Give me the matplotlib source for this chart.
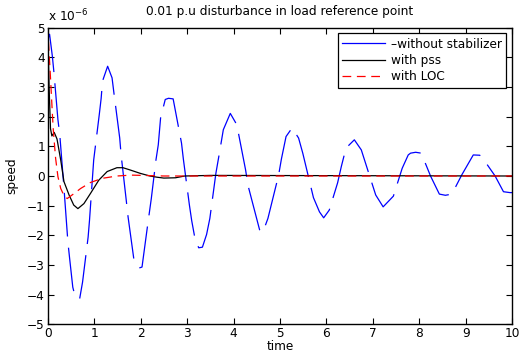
import matplotlib
matplotlib.use("Agg")
import matplotlib.pyplot as plt
from matplotlib.lines import Line2D

plt.rcParams['font.family'] = ['DejaVu Sans']

# Data (speed in units of 1e-6)
t_blue = [0.0, 0.04, 0.10, 0.135, 0.22, 0.26, 0.35, 0.435, 0.47, 0.54, 0.60, 0.69, 0.75, 0.87, 0.90,
          0.99, 1.11, 1.15, 1.18, 1.29, 1.385, 1.43, 1.55, 1.58, 1.69, 1.73, 1.86, 1.97, 2.03,
          2.16, 2.23, 2.33, 2.38, 2.43, 2.53, 2.60, 2.70, 2.88, 2.92, 3.05, 3.10, 3.17, 3.25,
          3.33, 3.42, 3.49, 3.62, 3.68, 3.78, 3.93, 4.07, 4.26, 4.31, 4.56, 4.63, 4.74, 4.97,
          5.03, 5.13, 5.26, 5.40, 5.49, 5.72, 5.85, 5.94, 6.06, 6.24, 6.32, 6.42, 6.60, 6.75,
          6.86, 7.06, 7.22, 7.44, 7.63, 7.76, 7.81, 7.92, 8.04, 8.24, 8.43, 8.56, 8.70, 8.91,
          9.16, 9.30, 9.43, 9.63, 9.81, 9.95, 10.0]
v_blue = [4.6, 4.78, 4.04, 3.48, 1.9, 1.39, -0.4, -2.23, -2.75, -3.75, -4.12, -4.12, -3.58, -2.06, -1.49,
          0.54, 2.07, 2.61, 3.2, 3.7, 3.31, 2.74, 1.28, 0.71, -0.81, -1.38, -2.87, -3.1, -3.07,
          -1.55, -0.76, 0.54, 1.05, 1.96, 2.58, 2.62, 2.6, 1.11, 0.57, -0.98, -1.51, -2.11, -2.42,
          -2.4, -1.97, -1.43, 0.09, 0.63, 1.56, 2.11, 1.73, 0.2, -0.31, -1.81, -1.9, -1.43, 0.03,
          0.57, 1.33, 1.62, 1.28, 0.77, -0.73, -1.21, -1.41, -1.15, -0.23, 0.32, 0.94, 1.22, 0.88,
          0.34, -0.64, -1.04, -0.68, 0.26, 0.71, 0.77, 0.8, 0.77, 0.0, -0.61, -0.65, -0.61, 0.03,
          0.71, 0.7, 0.45, 0.0, -0.53, -0.56, -0.56]

t_pss = [0.0, 0.03, 0.06, 0.09, 0.14, 0.20, 0.28, 0.35, 0.46, 0.56, 0.65, 0.78, 0.92, 1.10, 1.28,
         1.49, 1.62, 1.78, 1.99, 2.20, 2.35, 2.50, 2.75, 2.95, 3.5, 10.0]
v_pss = [4.95, 3.0, 1.6, 1.35, 1.47, 1.25, 0.54, -0.19, -0.64, -0.98, -1.1, -0.93, -0.59, -0.14, 0.15,
         0.28, 0.28, 0.2, 0.09, 0.0, -0.04, -0.07, -0.06, 0.0, 0.02, 0.0]

t_loc = [0.0, 0.03, 0.06, 0.10, 0.12, 0.17, 0.22, 0.28, 0.35, 0.42, 0.49, 0.56, 0.71, 0.92, 1.17,
         1.49, 1.80, 2.50, 10.0]
v_loc = [5.0, 4.16, 3.31, 2.12, 1.56, 0.6, -0.02, -0.42, -0.66, -0.76, -0.68, -0.6, -0.42, -0.22, -0.08,
         0.0, 0.03, 0.0, 0.0]

labels = ['\u2013without stabilizer', 'with pss', 'with LOC']
xticks = list(range(0, 11))
yticks = list(range(-5, 6))

FS = 8.7

fig = plt.figure(figsize=(5.19, 3.56), dpi=100)
ax = fig.add_axes([47.7/519, 1 - 324.3/356, (512.3-47.7)/519, (324.3-27.7)/356])

ax.plot(t_blue, v_blue, color='#0000ff', lw=0.9, dashes=(35, 9))
ax.plot(t_pss, v_pss, color='black', lw=0.9)
ax.plot(t_loc, v_loc, color='#ff0000', lw=0.9, dashes=(7, 4.5))

ax.set_xlim(0, 10)
ax.set_ylim(-5, 5)
ax.set_xticks(xticks)
ax.set_yticks(yticks)
ax.tick_params(direction='in', top=True, right=True, labelsize=FS, length=4, width=0.8, pad=2)
for s in ax.spines.values():
    s.set_linewidth(1.0)

ax.set_title('0.01 p.u disturbance in load reference point', fontsize=FS, pad=9)
ax.set_xlabel('time', fontsize=FS, labelpad=0)
ax.set_ylabel('speed', fontsize=FS, labelpad=6)
ax.text(0.0, 1.012, r'x 10$^{-6}$', transform=ax.transAxes, fontsize=FS, ha='left', va='bottom')

handles = [Line2D([], [], color='#0000ff', lw=0.9),
           Line2D([], [], color='black', lw=0.9),
           Line2D([], [], color='#ff0000', lw=0.9, dashes=(7, 4.5))]
leg = ax.legend(handles, labels, loc='upper right', bbox_to_anchor=(0.986, 0.981),
                borderaxespad=0, fontsize=FS, handlelength=3.6, handletextpad=0.45,
                labelspacing=0.28, fancybox=False, framealpha=1, edgecolor='black',
                borderpad=0.35)
leg.get_frame().set_linewidth(0.9)

fig.savefig('out.png', dpi=100)
